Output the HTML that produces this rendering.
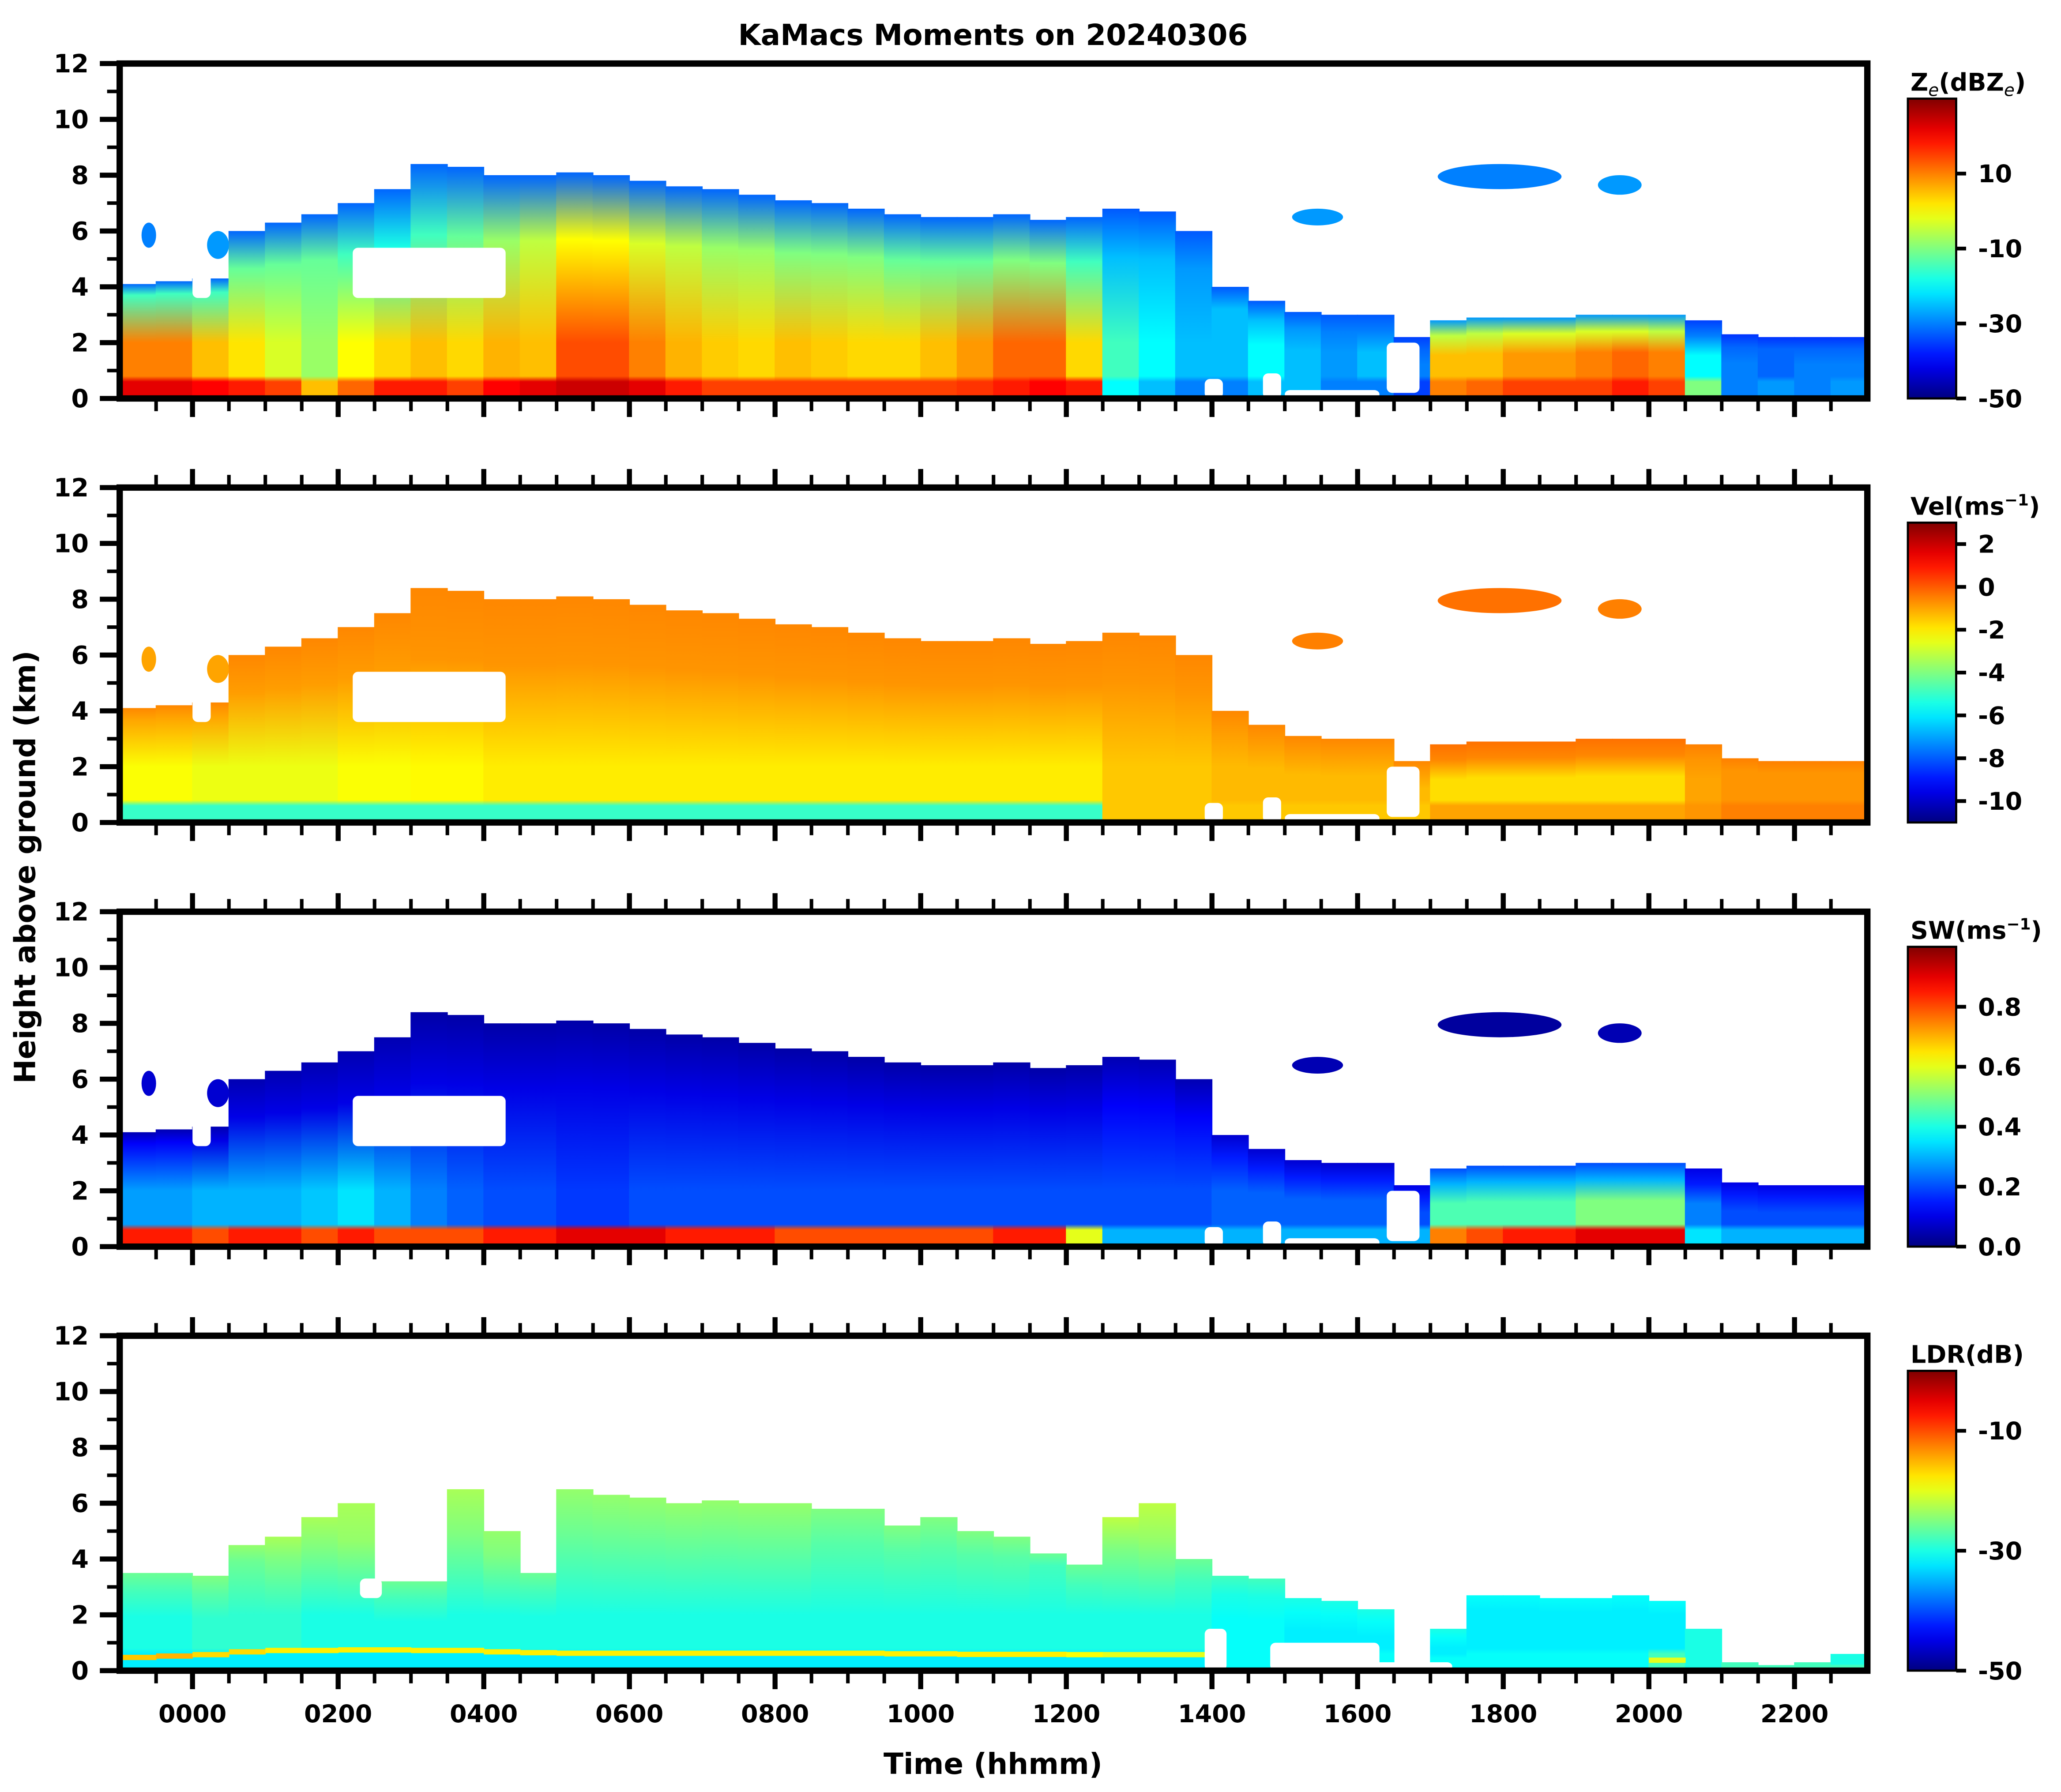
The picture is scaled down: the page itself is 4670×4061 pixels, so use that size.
<!DOCTYPE html>
<html><head><meta charset="utf-8"><style>
html,body{margin:0;padding:0;background:#fff;}
svg text{font-family:"DejaVu Sans","Liberation Sans",sans-serif;font-weight:bold;fill:#000;}
</style></head><body>
<svg id="fig" xmlns="http://www.w3.org/2000/svg" width="4670" height="4056" viewBox="0 0 1556.667 1352">
<defs id="defs"></defs>
<text x="750" y="34" font-size="22" text-anchor="middle">KaMacs Moments on 20240306</text>
<text transform="translate(19,655) rotate(-90)" font-size="22" text-anchor="middle" dominant-baseline="central">Height above ground (km)</text>
<text x="750" y="1340" font-size="22" text-anchor="middle">Time (hhmm)</text>
</svg>
<script>
// ---- data ----
const bins = [-1,-0.5,0,0.5,1,1.5,2,2.5,3,3.5,4,4.5,5,5.5,6,6.5,7,7.5,8,8.5,9,9.5,10,10.5,11,11.5,12,12.5,13,13.5,14,14.5,15,15.5,16,16.5,17,17.5,18,18.5,19,19.5,20,20.5,21,21.5,22,22.5];
const cloudTop = [4.1,4.2,4.3,6.0,6.3,6.6,7.0,7.5,8.4,8.3,8.0,8.0,8.1,8.0,7.8,7.6,7.5,7.3,7.1,7.0,6.8,6.6,6.5,6.5,6.6,6.4,6.5,6.8,6.7,6.0,4.0,3.5,3.1,3.0,3.0,2.2,2.8,2.9,2.9,2.9,3.0,3.0,3.0,2.8,2.3,2.2,2.2,2.2];
const zeSurf = [22,22,20,18,15,5,12,18,18,15,20,22,24,24,22,18,15,15,15,15,15,15,15,16,18,20,18,-20,-25,-30,-30,-25,-25,-30,-30,-35,10,12,15,15,15,18,15,-10,-30,-28,-30,-28];
const zeLow = [10,10,5,2,-3,-8,0,3,5,3,6,5,14,14,10,6,4,3,5,4,3,3,5,8,12,12,3,-15,-20,-25,-25,-20,-25,-28,-25,-30,5,5,8,8,10,12,10,-20,-30,-32,-30,-30];
const zeUp = [-15,-15,-15,-12,-12,-12,-15,-18,-15,-12,-8,-5,0,0,-3,-5,-8,-8,-10,-10,-10,-12,-12,-12,-10,-10,-15,-25,-25,-28,-25,-25,-28,-30,-30,-32,-5,-5,-3,-3,-3,-3,-5,-30,-32,-32,-32,-32];
const zeTopV = [-32,-32,-32,-32,-32,-32,-32,-32,-32,-32,-32,-32,-32,-32,-32,-32,-32,-32,-32,-32,-32,-32,-32,-32,-32,-32,-32,-33,-33,-33,-33,-33,-33,-33,-33,-35,-28,-28,-28,-28,-28,-28,-28,-35,-36,-36,-36,-36];
const velSurf = [-5,-5,-5,-5,-5,-5,-5,-5,-5,-5,-5,-5,-5,-5,-5,-5,-5,-5,-5,-5,-5,-5,-5,-5,-5,-5,-5,-1.5,-1.5,-1.5,-1.5,-1.5,-1.5,-1.5,-1.5,-1.5,-1,-1,-1,-1,-1,-1,-1,-0.8,-0.5,-0.5,-0.5,-0.5];
const velLow = [-2.3,-2.3,-2.5,-2.5,-2.5,-2.5,-2.3,-2.3,-2.2,-2.2,-2.0,-2.0,-2.0,-2.0,-2.0,-2.0,-2.0,-2.0,-2.0,-2.0,-2.0,-2.0,-2.0,-2.0,-2.0,-2.0,-2.0,-1.5,-1.5,-1.5,-1.3,-1.3,-1.3,-1.3,-1.3,-1.3,-1.8,-1.8,-1.8,-1.8,-1.8,-1.8,-1.8,-1.0,-0.8,-0.8,-0.8,-0.8];
const velUp = [-1.0,-1.0,-1.0,-0.9,-0.9,-0.9,-0.9,-0.9,-0.8,-0.8,-0.8,-0.8,-0.8,-0.8,-0.8,-0.8,-0.8,-0.8,-0.8,-0.8,-0.8,-0.8,-0.8,-0.8,-0.8,-0.8,-0.8,-0.8,-0.8,-0.8,-0.9,-0.9,-0.9,-0.9,-0.9,-0.9,-0.6,-0.6,-0.6,-0.6,-0.6,-0.6,-0.6,-0.8,-0.8,-0.8,-0.8,-0.8];
const velTopV = [-0.6,-0.6,-0.6,-0.6,-0.6,-0.6,-0.6,-0.6,-0.6,-0.6,-0.6,-0.6,-0.6,-0.6,-0.6,-0.6,-0.6,-0.6,-0.6,-0.6,-0.6,-0.6,-0.6,-0.6,-0.6,-0.6,-0.6,-0.6,-0.6,-0.6,-0.6,-0.6,-0.6,-0.6,-0.6,-0.6,-0.3,-0.3,-0.3,-0.3,-0.3,-0.3,-0.3,-0.5,-0.5,-0.5,-0.5,-0.5];
const swSurf = [0.85,0.85,0.8,0.85,0.85,0.8,0.85,0.8,0.8,0.8,0.85,0.85,0.9,0.9,0.9,0.85,0.85,0.85,0.8,0.8,0.8,0.8,0.8,0.8,0.85,0.85,0.6,0.3,0.3,0.3,0.3,0.3,0.3,0.3,0.3,0.3,0.75,0.8,0.85,0.85,0.9,0.9,0.9,0.35,0.3,0.3,0.3,0.3];
const swLow = [0.28,0.28,0.3,0.3,0.3,0.32,0.35,0.3,0.25,0.22,0.2,0.2,0.18,0.18,0.2,0.2,0.2,0.2,0.2,0.2,0.2,0.2,0.2,0.2,0.2,0.2,0.2,0.2,0.2,0.2,0.22,0.22,0.22,0.22,0.22,0.2,0.45,0.45,0.45,0.45,0.5,0.5,0.5,0.25,0.2,0.2,0.2,0.2];
const swUp = [0.12,0.12,0.1,0.1,0.1,0.1,0.1,0.1,0.1,0.1,0.1,0.1,0.1,0.1,0.1,0.1,0.1,0.1,0.1,0.1,0.1,0.1,0.1,0.1,0.1,0.1,0.1,0.12,0.12,0.12,0.15,0.15,0.15,0.15,0.15,0.15,0.3,0.3,0.3,0.3,0.3,0.3,0.3,0.15,0.15,0.15,0.15,0.15];
const swTopV = [0.05,0.05,0.05,0.05,0.05,0.05,0.05,0.05,0.04,0.04,0.04,0.04,0.04,0.04,0.04,0.04,0.04,0.04,0.04,0.04,0.04,0.04,0.04,0.04,0.04,0.04,0.04,0.05,0.05,0.05,0.08,0.08,0.08,0.08,0.08,0.1,0.2,0.2,0.2,0.2,0.2,0.2,0.2,0.1,0.1,0.1,0.1,0.1];
const ldrTop = [3.5,3.5,3.4,4.5,4.8,5.5,6.0,3.2,3.2,6.5,5.0,3.5,6.5,6.3,6.2,6.0,6.1,6.0,6.0,5.8,5.8,5.2,5.5,5.0,4.8,4.2,3.8,5.5,6.0,4.0,3.4,3.3,2.6,2.5,2.2,0.3,1.5,2.7,2.7,2.6,2.6,2.7,2.5,1.5,0.3,0.2,0.3,0.6];
const ldrSurf = [-32,-32,-32,-32,-32,-32,-32,-32,-32,-32,-32,-32,-32,-32,-32,-32,-32,-32,-32,-32,-32,-32,-32,-32,-32,-32,-32,-32,-32,-32,-31,-31,-31,-31,-31,-25,-31,-31,-31,-31,-31,-31,-28,-30,-22,-22,-25,-28];
const ldrLow = [-30,-30,-29,-29,-29,-30,-30,-30,-30,-30,-30,-30,-30,-30,-30,-30,-30,-30,-30,-30,-30,-30,-30,-30,-30,-30,-30,-30,-30,-30,-31,-31,-32,-32,-32,-28,-32,-32,-32,-32,-32,-32,-32,-30,-28,-28,-28,-30];
const ldrUp = [-28,-28,-27,-26,-25,-25,-24,-28,-28,-25,-25,-28,-26,-26,-26,-26,-26,-26,-26,-27,-27,-27,-27,-27,-27,-28,-28,-25,-24,-28,-30,-30,-31,-31,-31,-28,-31,-32,-32,-32,-32,-32,-32,-30,-28,-28,-28,-30];
const ldrTopV = [-26,-26,-25,-24,-23,-23,-23,-26,-26,-23,-24,-26,-24,-24,-24,-24,-24,-24,-24,-25,-25,-25,-25,-25,-25,-26,-26,-22,-22,-26,-28,-28,-30,-30,-30,-28,-30,-31,-31,-31,-31,-31,-31,-30,-28,-28,-28,-30];
const ldrBand = [-16,-15,-17,-17,-18,-18,-18,-18,-18,-18,-18,-18,-18,-18,-18,-18,-18,-18,-18,-18,-18,-18,-18,-18,-18,-18,-19,-20,-20,-20,null,null,null,null,null,null,null,null,null,null,null,null,-20,null,null,null,null,null];
const ldrBandH = [0.45,0.5,0.55,0.65,0.7,0.7,0.72,0.72,0.7,0.7,0.65,0.62,0.6,0.6,0.6,0.6,0.6,0.6,0.6,0.6,0.6,0.58,0.58,0.56,0.56,0.56,0.55,0.55,0.55,0.55,null,null,null,null,null,null,null,null,null,null,null,null,0.35,null,null,null,null,null];
// white gaps in echo (t0,t1,h0,h1)
const gapT0 = [2.2,0.0,16.4,13.9,15.0,14.7];
const gapT1 = [4.3,0.25,16.85,14.15,16.3,14.95];
const gapH0 = [3.6,3.6,0.2,0.0,0.0,0.0];
const gapH1 = [5.4,5.0,2.0,0.7,0.3,0.9];
const ldrGapT0 = [13.9,14.8,16.2,2.3];
const ldrGapT1 = [14.2,16.3,17.3,2.6];
const ldrGapH0 = [0.0,0.0,0.0,2.6];
const ldrGapH1 = [1.5,1.0,0.3,3.3];
// isolated high clouds
const isoT0 = [15.1,17.1,19.3,-0.7,0.2];
const isoT1 = [15.8,18.8,19.9,-0.5,0.5];
const isoH0 = [6.2,7.5,7.3,5.4,5.0];
const isoH1 = [6.8,8.4,8.0,6.3,6.0];
const isoZe = [-28,-30,-28,-30,-28];
const isoVel = [-0.5,-0.3,-0.5,-1.0,-1.0];
const isoSw = [0.05,0.03,0.05,0.08,0.08];
// axis ticks
const yTickLabels = ["0","2","4","6","8","10","12"];
const xTickLabels = ["0000","0200","0400","0600","0800","1000","1200","1400","1600","1800","2000","2200"];
const zeTicks = [10,-10,-30,-50];
const velTicks = [2,0,-2,-4,-6,-8,-10];
const swTicks = [0.0,0.2,0.4,0.6,0.8];
const swTickLabels = ["0.0","0.2","0.4","0.6","0.8"];
const ldrTicks = [-10,-30,-50];

// ---- helpers ----
const NS = "http://www.w3.org/2000/svg";
const svg = document.getElementById('fig');
const defs = document.getElementById('defs');
const X0 = 90.4, PXH = 55, PH = 253, PANEL_TOPS = [48, 368.3, 688.7, 1009];
function xS(h){ return X0 + (h + 1) * PXH; }
function yS(p, km){ return PANEL_TOPS[p] + PH - km * PH / 12; }
function clamp(v){ return Math.max(0, Math.min(1, v)); }
function jet(x){
  x = clamp(x);
  const r = clamp(1.5 - Math.abs(4*x - 3)), g = clamp(1.5 - Math.abs(4*x - 2)), b = clamp(1.5 - Math.abs(4*x - 1));
  return 'rgb(' + Math.round(r*255) + ',' + Math.round(g*255) + ',' + Math.round(b*255) + ')';
}
function mk(tag, attrs, parent){
  const e = document.createElementNS(NS, tag);
  for (const k in attrs) e.setAttribute(k, attrs[k]);
  (parent || svg).appendChild(e);
  return e;
}
let gid = 0;
function columnGradient(top, vals, norm){
  const id = 'g' + (gid++);
  const g = mk('linearGradient', {id: id, x1: 0, y1: 1, x2: 0, y2: 0}, defs);
  const h1 = Math.min(0.6, top*0.3), h1b = Math.min(h1 + 0.2, top*0.4);
  const h2 = Math.min(2.0, top*0.55);
  const h3 = top > 4 ? (top + 3.3)/2 : top*0.8;
  const hs = [0, h1, h1b, Math.max(h2, h1b), h3, top];
  const vs = [vals[0], vals[0], vals[1], vals[1], vals[2], vals[3]];
  for (let i = 0; i < hs.length; i++) mk('stop', {offset: (hs[i]/top).toFixed(4), 'stop-color': jet(norm(vs[i]))}, g);
  return id;
}

const panels = [
  {name:'ze', top: cloudTop, arr:[zeSurf, zeLow, zeUp, zeTopV], norm: v => (v + 50)/80, iso: isoZe,
   ticks: zeTicks, tickLabels: zeTicks.map(String), min: -50, max: 30, label: 'Z<tspan font-style="italic" font-weight="normal" font-size="13" dy="4">e</tspan><tspan dy="-4">(dBZ</tspan><tspan font-style="italic" font-weight="normal" font-size="13" dy="4">e</tspan><tspan dy="-4">)</tspan>'},
  {name:'vel', top: cloudTop, arr:[velSurf, velLow, velUp, velTopV], norm: v => (v + 11)/14, iso: isoVel,
   ticks: velTicks, tickLabels: velTicks.map(String), min: -11, max: 3, label: 'Vel(ms<tspan font-size="12" dy="-7">−1</tspan><tspan dy="7">)</tspan>'},
  {name:'sw', top: cloudTop, arr:[swSurf, swLow, swUp, swTopV], norm: v => v, iso: isoSw,
   ticks: swTicks, tickLabels: swTickLabels, min: 0, max: 1, label: 'SW(ms<tspan font-size="12" dy="-7">−1</tspan><tspan dy="7">)</tspan>'},
  {name:'ldr', top: ldrTop, arr:[ldrSurf, ldrLow, ldrUp, ldrTopV], norm: v => (v + 50)/50, iso: null,
   ticks: ldrTicks, tickLabels: ldrTicks.map(String), min: -50, max: 0, label: 'LDR(dB)'}
];

// colorbar gradient
const cbg = mk('linearGradient', {id:'jetbar', x1:0, y1:1, x2:0, y2:0}, defs);
for (let i = 0; i <= 20; i++) mk('stop', {offset: i/20, 'stop-color': jet(i/20)}, cbg);

panels.forEach((P, p) => {
  const pt = PANEL_TOPS[p], pb = pt + PH;
  const grp = mk('g', {});
  
  
  const clipId = 'clip' + p;
  const cp = mk('clipPath', {id: clipId}, defs);
  mk('rect', {x: X0, y: pt, width: 1320, height: PH}, cp);
  const data = mk('g', {'clip-path': 'url(#' + clipId + ')'}, grp);
  
  
  for (let i = 0; i < bins.length; i++) {
    const top = P.top[i];
    const gidn = columnGradient(top, [P.arr[0][i], P.arr[1][i], P.arr[2][i], P.arr[3][i]], P.norm);
    const c = mk('rect', {x: xS(bins[i]) - 0.3, y: yS(p, top), width: PXH/2 + 0.6, height: top*PH/12, fill: 'url(#' + gidn + ')'}, data);
    
    
  }
  if (P.name === 'ldr') {
    for (let i = 0; i < bins.length; i++) {
      if (ldrBand[i] === null) continue;
      const b = mk('rect', {x: xS(bins[i]), y: yS(p, ldrBandH[i]) - 2.5, width: PXH/2 + 0.3, height: 4, fill: jet(P.norm(ldrBand[i]))}, data);
      
      
    }
  }
  const G = P.name === 'ldr' ? [ldrGapT0, ldrGapT1, ldrGapH0, ldrGapH1] : [gapT0, gapT1, gapH0, gapH1];
  for (let k = 0; k < G[0].length; k++) {
    const w = mk('rect', {x: xS(G[0][k]), y: yS(p, G[3][k]), width: xS(G[1][k]) - xS(G[0][k]), height: (G[3][k] - G[2][k])*PH/12, fill: '#fff', rx: 4}, data);
    
    
  }
  if (P.iso) {
    for (let k = 0; k < isoT0.length; k++) {
      const e = mk('ellipse', {cx: (xS(isoT0[k]) + xS(isoT1[k]))/2, cy: (yS(p, isoH0[k]) + yS(p, isoH1[k]))/2,
        rx: (xS(isoT1[k]) - xS(isoT0[k]))/2, ry: (isoH1[k] - isoH0[k])*PH/24, fill: jet(P.norm(P.iso[k]))}, data);
      
      
    }
  }
  for (let km = 0; km <= 12; km++) {
    const major = km % 2 === 0;
    const y = yS(p, km);
    mk('line', {x1: X0 - (major ? 15 : 9.5), x2: X0, y1: y, y2: y, stroke: '#000', 'stroke-width': major ? 3.8 : 2.7}, grp);
    if (major) {
      const t = mk('text', {x: 67, y: y + 6.7, 'font-size': 19, 'text-anchor': 'end'}, grp);
      t.textContent = yTickLabels[km/2];
      
      
    }
  }
  for (let h = -0.5; h < 23; h += 0.5) {
    const major = (h >= 0) && (h % 2 === 0);
    const x = xS(h);
    const len = major ? 14 : 9.6;
    mk('line', {x1: x, x2: x, y1: pb, y2: pb + len, stroke: '#000', 'stroke-width': major ? 3.8 : 2.7}, grp);
    if (p > 0) mk('line', {x1: x, x2: x, y1: pt, y2: pt - len, stroke: '#000', 'stroke-width': major ? 3.8 : 2.7}, grp);
    if (p === 3 && major) {
      const t = mk('text', {x: x, y: pb + 39, 'font-size': 18.5, 'text-anchor': 'middle'}, grp);
      t.textContent = xTickLabels[h/2];
      
      
    }
  }
  const fr = mk('rect', {x: X0, y: pt, width: 1320, height: PH, fill: 'none', stroke: '#000', 'stroke-width': 4.8}, grp);
  
  
  const cb = mk('g', {}, grp);
  
  
  const cbTop = pt + 26.5, cbBot = pb, cbX = 1441, cbW = 36.5;
  mk('rect', {x: cbX, y: cbTop, width: cbW, height: cbBot - cbTop, fill: 'url(#jetbar)', stroke: '#000', 'stroke-width': 1.6}, cb);
  const lab = mk('text', {x: 1443, y: cbTop - 6, 'font-size': 18.5}, cb);
  lab.innerHTML = P.label;
  
  
  P.ticks.forEach((v, k) => {
    const y = cbBot - (v - P.min)/(P.max - P.min)*(cbBot - cbTop);
    mk('line', {x1: cbX + cbW, x2: cbX + cbW + 7.5, y1: y, y2: y, stroke: '#000', 'stroke-width': 2.8}, cb);
    const t = mk('text', {x: 1494, y: y + 6.6, 'font-size': 18.5}, cb);
    t.textContent = P.tickLabels[k];
    
    
  });
});
</script>
</body></html>
